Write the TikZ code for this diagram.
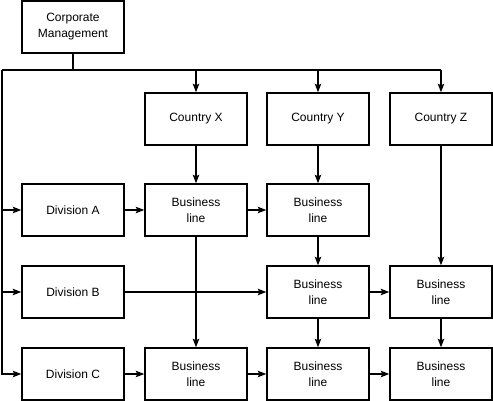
\documentclass[tikz,border=0pt]{standalone}
\usepackage{fontspec}
\setmainfont{Liberation Sans}
\usetikzlibrary{arrows.meta}
\begin{document}
\begin{tikzpicture}[x=1pt,y=-1pt,
  box/.style={draw,line width=1.5pt,minimum width=102pt,minimum height=52pt,inner sep=0pt,align=center,font=\fontsize{12}{16}\selectfont},
  conn/.style={line width=1.5pt},
  arr/.style={conn,-{Stealth[length=8.5pt,width=6.5pt,inset=1.5pt]}}]
\useasboundingbox (0,0) rectangle (493,401);
\node[box] (cm) at (73,27) {Corporate\\Management};
\node[box] (cx) at (196,119) {Country X};
\node[box] (cy) at (318,119) {Country Y};
\node[box] (cz) at (441,119) {Country Z};
\node[box] (da) at (73,210) {Division A};
\node[box] (db) at (73,292) {Division B};
\node[box] (dc) at (73,374) {Division C};
\node[box] (xa) at (196,210) {Business\\line};
\node[box] (ya) at (318,210) {Business\\line};
\node[box] (yb) at (318,292) {Business\\line};
\node[box] (zb) at (441,292) {Business\\line};
\node[box] (xc) at (196,374) {Business\\line};
\node[box] (yc) at (318,374) {Business\\line};
\node[box] (zc) at (441,374) {Business\\line};
\coordinate (tl) at (2,70);
\coordinate (tr) at (441,70);
\draw[conn] (cm.south) -- (cm.south |- tl);
\draw[conn] (tl) -- (tr);
\draw[arr] (cx.north |- tl) -- (cx.north);
\draw[arr] (cy.north |- tl) -- (cy.north);
\draw[arr] (tr) -- (cz.north);
\draw[arr] (tl) |- (dc.west);
\draw[arr] (tl |- da) -- (da.west);
\draw[arr] (tl |- db) -- (db.west);
\draw[arr] (da) -- (xa);
\draw[arr] (xa) -- (ya);
\draw[arr] (cx) -- (xa);
\draw[arr] (xa) -- (xc);
\draw[arr] (db) -- (yb);
\draw[arr] (cy) -- (ya);
\draw[arr] (ya) -- (yb);
\draw[arr] (yb) -- (yc);
\draw[arr] (cz) -- (zb);
\draw[arr] (zb) -- (zc);
\draw[arr] (yb) -- (zb);
\draw[arr] (dc) -- (xc);
\draw[arr] (xc) -- (yc);
\draw[arr] (yc) -- (zc);
\end{tikzpicture}
\end{document}
